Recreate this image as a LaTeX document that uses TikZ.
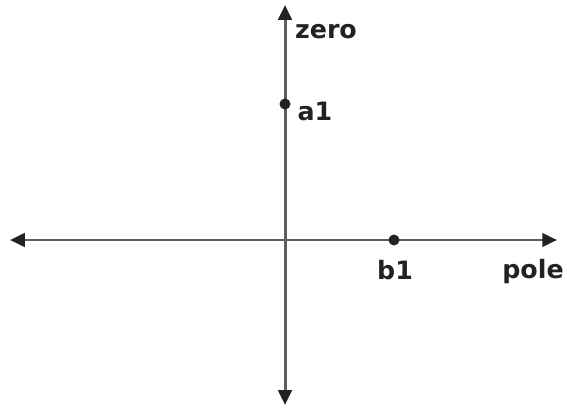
\documentclass[tikz,border=0pt]{standalone}
\usepackage{fontspec}
\setmainfont{DejaVu Sans}
\usetikzlibrary{arrows.meta,positioning}
\definecolor{axisgray}{HTML}{5E5E5E}
\definecolor{dotblack}{HTML}{222222}

\begin{document}
\begin{tikzpicture}[
  >={Triangle[length=4.2pt,width=3.8pt,color=dotblack]},
  axis/.style={<->, line width=0.85pt, draw=axisgray},
  pt/.style={circle, fill=dotblack, inner sep=0pt, minimum size=0.11cm},
  lbl/.style={font=\bfseries\fontsize{7.2}{9}\selectfont, text=dotblack, inner sep=0pt}
]
\useasboundingbox (0,0) rectangle (5.67,4.10);

%% Axes
\coordinate (xl) at (0.10,1.70);
\coordinate (xr) at (5.57,1.70);
\coordinate (yb) at (2.85,0.05);
\coordinate (yt) at (2.85,4.05);
\draw[axis] (xl) -- (xr);
\draw[axis] (yb) -- (yt);

%% Points
\node[pt] (a1) at (2.85,3.06) {};
\node[pt] (b1) at (3.94,1.70) {};

%% Labels
\node[lbl] (zerolbl) at (3.26,3.78) {zero};
\node[lbl] (a1lbl) at (3.15,2.99) {a1};
\node[lbl] (b1lbl) at (3.95,1.40) {b1};
\node[lbl] (polelbl) at (5.33,1.38) {pole};

\end{tikzpicture}
\end{document}
